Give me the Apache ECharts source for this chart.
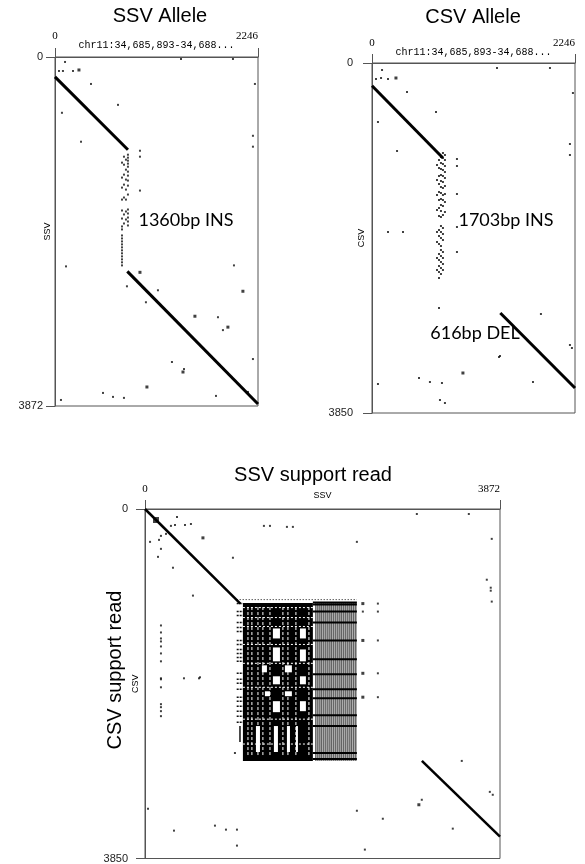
<!DOCTYPE html>
<html><head><meta charset="utf-8">
<script src="https://cdn.jsdelivr.net/npm/echarts@6/dist/echarts.min.js"></script>
<style>html,body{margin:0;padding:0;background:#fff}#c{width:585px;height:864px}</style>
</head><body><div id="c"></div>
<script>
// ---------- axis extents / tick labels ----------
const refLen = 2246;          // chr11 reference window
const ssvLen = 3872;
const csvLen = 3850;
const refName = 'chr11:34,685,893-34,688...';
const titles = ['SSV Allele', 'CSV Allele', 'SSV support read', 'CSV support read'];
const notes = ['1360bp INS', '1703bp INS', '616bp DEL'];

// ---------- panel 1: SSV allele vs reference ----------
const ssvAlleleSegs = [[0, 221, 807, 1029], [800, 2378, 2246, 3850]];
const ssvAlleleDots = [[111,55],[44,155],[88,155],[199,155],[398,299],[697,531],[1394,22],[1969,22],[2212,299],[77,619],[288,940],[2190,874],[2190,995],[122,2323],[1980,2312],[1139,2588],[1006,2721],[796,2544],[1803,2887],[1858,3030],[2190,3351],[1294,3384],[1427,3462],[531,3727],[642,3771],[763,3782],[1781,3760],[66,3805],[2135,3716],[940,1040],[940,1106],[940,1482]];
const ssvAlleleBigDots = [[265,144],[2079,2599],[1548,2876],[1913,2997],[1416,3495],[1017,3661],[940,2389]];
const ssvInsDots = [
 [807,1084],[807,1117],[807,1150],[807,1183],[807,1217],[807,1272],[807,1316],[807,1371],[807,1427],[807,1526],[807,1692],[807,1736],[807,1781],[807,1825],[807,1869],
 [785,1139],[785,1250],[785,1360],[785,1471],[785,1582],[785,1714],[785,1803],
 [763,1106],[763,1195],[763,1305],[763,1416],[763,1559],[763,1747],[763,1847],
 [741,1172],[741,1338],[741,1449],[741,1582],[741,1703],[741,1792],[741,1880],[741,1913],[741,1980],[741,2013],[741,2046],[741,2079],[741,2112],[741,2145],[741,2178],[741,2212],[741,2245],[741,2278],[741,2312]
];

// ---------- panel 2: CSV allele vs reference ----------
const csvAlleleSegs = [[0, 250, 785, 1045], [1420, 2750, 2246, 3575]];
const csvAlleleDots = [[111,77],[44,176],[100,165],[177,176],[387,319],[708,539],[1383,55],[1969,55],[2223,330],[66,649],[277,968],[2190,891],[2190,1012],[177,1859],[343,1859],[940,1056],[940,1133],[940,1441],[940,1804],[940,2079],[741,2695],[1869,2761],[2190,3102],[2212,3135],[1416,3223],[1405,3234],[520,3465],[641,3509],[774,3520],[1781,3509],[66,3531],[752,3707],[807,3740]];
const csvAlleleBigDots = [[265,165],[1006,3410]];
const csvInsDots = [
 [807,1012],[807,1067],[807,1133],[807,1199],[807,1265],[807,1353],[807,1441],[807,1529],[807,1639],
 [785,990],[785,1045],[785,1111],[785,1177],[785,1243],[785,1309],[785,1375],[785,1452],[785,1507],[785,1573],[785,1672],[785,1815],[785,1881],[785,1947],[785,2079],[785,2145],[785,2211],[785,2277],
 [763,1034],[763,1100],[763,1166],[763,1232],[763,1298],[763,1364],[763,1430],[763,1496],[763,1562],[763,1628],[763,1694],[763,1793],[763,1859],[763,1925],[763,2013],[763,2057],[763,2123],[763,2189],[763,2255],[763,2321],
 [741,1067],[741,1155],[741,1243],[741,1331],[741,1419],[741,1507],[741,1595],[741,1683],[741,1837],[741,1903],[741,1991],[741,2101],[741,2167],[741,2233],[741,2299],[741,2365],
 [719,1122],[719,1287],[719,1452],[719,1617],[719,1859],[719,1969],[719,2145],[719,2277]
];

// ---------- panel 3: SSV support read vs CSV support read ----------
const readSegs = [[0, 0, 1040, 1042], [3020, 2775, 3872, 3610]];
const readDots = [[349,88],[283,186],[327,176],[436,176],[501,165],[229,274],[174,296],[153,340],[55,362],[174,439],[142,527],[305,647],[959,537],[1297,186],[1363,186],[1548,197],[1613,197],[2311,362],[2965,55],[3532,55],[3782,329],[3728,779],[3771,867],[3771,900],[3782,1020],[2540,1042],[2540,1130],[2376,1130],[2540,1448],[2540,1810],[2540,2073],[600,1854],[3455,2775],[3761,3116],[3793,3148],[3019,3203],[2311,3324],[2594,3412],[3357,3521],[763,3488],[883,3532],[1003,3532],[1003,3708],[2398,3752],[523,954],[425,1865],[589,1865],[33,3302],[316,3543],[981,2688],
 [174,1283],[174,1360],[174,1426],[174,1459],[174,1514],[174,1591],[174,1678],[174,1865],[174,1876],[174,1964],[174,2150],[174,2183],[174,2227],[174,2282]];
const readBigDots = [[632,318],[2376,1042],[2376,1448],[2376,1810],[2376,2073],[2987,3258]];
const readSquare = [[120,121]];
// repeat block: dense area [x0,y0,x1,y1], white holes, white seams, stripe columns and dark rows
const blockDense = [[1068,1035,1831,2775]];
const blockHoles = [[1395,1316,1472,1426],[1690,1316,1755,1426],[1395,1525,1472,1678],[1690,1547,1755,1678],[1275,1722,1330,1799],[1526,1722,1602,1799],[1395,1843,1472,1931],[1690,1843,1755,1931],[1308,2008,1363,2062],[1526,2008,1602,2062],[1395,2117,1472,2238],[1690,2117,1755,2227],[1210,2391,1254,2677],[1406,2391,1450,2677],[1548,2391,1581,2677],[1646,2391,1668,2677]];
const seamCols = [1123,1166,1232,1286,1363,1504,1559,1646,1788];
const seamSpanY = [1080, 2720];
const seamRows = [1086,1196,1294,1492,1700,1964,2315,2589];
const seamSpanX = [1068, 1831];
const stripeX = [1864,1886,1908,1929,1951,1973,1995,2017,2038,2060,2082,2104,2126,2147,2169,2191,2213,2235,2256,2278,2300];
const stripeSpanY = [1030, 2775];
const stripeRows = [1031,1053,1130,1251,1448,1656,1821,1986,2084,2271,2391,2688,2753];
const stripeSpanX = [1831, 2311];
const leftRows = [1042,1130,1174,1251,1305,1349,1448,1492,1547,1591,1635,1678,1810,1876,1920,1986,2073,2117,2172,2227,2282,2348];
const leftSpanX = [1000, 1068];
const leftBar = [[1036, 2391, 2567]];
const topRow = [[1000, 998, 2311, 998]];

// ---------- helpers ----------
const AX = '#555';
const plain = v => String(v);
function xAx(gi, max, name, gap, margin, nameSize, nameFont) {
  return {gridIndex: gi, type: 'value', position: 'top', min: 0, max: max, interval: max,
    axisLine: {show: true, onZero: false, lineStyle: {color: AX, width: 1}},
    axisTick: {show: true, length: 9, lineStyle: {color: AX}},
    splitLine: {show: false},
    axisLabel: {margin: margin, formatter: plain, color: '#000', fontFamily: 'Liberation Serif', fontSize: 11, showMinLabel: true, showMaxLabel: true, alignMaxLabel: 'right'},
    name: name, nameLocation: 'middle', nameGap: gap, nameMoveOverlap: false,
    nameTextStyle: {color: '#000', fontFamily: nameFont, fontSize: nameSize}};
}
function yAx(gi, max, name, gap, margin) {
  return {gridIndex: gi, type: 'value', inverse: true, min: 0, max: max, interval: max,
    axisLine: {show: true, onZero: false, lineStyle: {color: AX, width: 1}},
    axisTick: {show: true, length: 9, lineStyle: {color: AX}},
    splitLine: {show: false},
    axisLabel: {margin: margin, formatter: plain, color: '#222', fontFamily: 'Liberation Sans', fontSize: 11, showMinLabel: true, showMaxLabel: true},
    name: name, nameLocation: 'middle', nameGap: gap, nameMoveOverlap: false,
    nameTextStyle: {color: '#000', fontFamily: 'Liberation Sans', fontSize: 9}};
}
function segSeries(gi, data, w) {
  return {type: 'custom', xAxisIndex: gi, yAxisIndex: gi, data: data, silent: true, z: 5,
    renderItem: (p, api) => {
      const a = api.coord([api.value(0), api.value(1)]), b = api.coord([api.value(2), api.value(3)]);
      return {type: 'line', shape: {x1: a[0], y1: a[1], x2: b[0], y2: b[1]}, style: {stroke: '#000', lineWidth: w}};
    }};
}
function rectSeries(gi, data, fill, z) {
  return {type: 'custom', xAxisIndex: gi, yAxisIndex: gi, data: data, silent: true, z: z,
    renderItem: (p, api) => {
      const a = api.coord([api.value(0), api.value(1)]), b = api.coord([api.value(2), api.value(3)]);
      return {type: 'rect', shape: {x: Math.min(a[0], b[0]), y: Math.min(a[1], b[1]), width: Math.abs(b[0] - a[0]), height: Math.abs(b[1] - a[1])}, style: {fill: fill}};
    }};
}
function dotSeries(gi, data, size, symbol) {
  return {type: 'scatter', xAxisIndex: gi, yAxisIndex: gi, data: data, symbol: symbol || 'rect', symbolSize: size,
    itemStyle: {color: '#111'}, silent: true, z: 4};
}
function thinSeries(gi, data, w, color, z, dash) {
  return {type: 'custom', xAxisIndex: gi, yAxisIndex: gi, data: data, silent: true, z: z,
    renderItem: (p, api) => {
      const a = api.coord([api.value(0), api.value(1)]), b = api.coord([api.value(2), api.value(3)]);
      return {type: 'line', shape: {x1: a[0], y1: a[1], x2: b[0], y2: b[1]}, style: {stroke: color, lineWidth: w, lineDash: dash || null}};
    }};
}
function txt(t, x, y, size, font, rot) {
  return {type: 'text', x: x, y: y, rotation: rot || 0,
    style: {text: t, fill: '#000', fontSize: size, fontFamily: font, align: 'center', verticalAlign: 'middle'}};
}

const stripeLines = stripeX.map(x => [x, stripeSpanY[0], x, stripeSpanY[1]]);
const stripeRowLines = stripeRows.map(y => [stripeSpanX[0], y, stripeSpanX[1], y]);
const seamColLines = seamCols.map(x => [x, seamSpanY[0], x, seamSpanY[1]]);
const seamRowLines = seamRows.map(y => [seamSpanX[0], y, seamSpanX[1], y]);
const leftRowLines = leftRows.map(y => [leftSpanX[0], y, leftSpanX[1], y]);
const leftBarLines = leftBar.map(b => [b[0], b[1], b[0], b[2]]);

const chart = echarts.init(document.getElementById('c'), null, {renderer: 'canvas'});
chart.setOption({
  animation: false,
  backgroundColor: '#fff',
  grid: [
    {left: 55, top: 57, width: 203, height: 349, show: true, borderColor: AX, borderWidth: 1},
    {left: 372, top: 63, width: 203, height: 350, show: true, borderColor: AX, borderWidth: 1},
    {left: 145, top: 509, width: 355, height: 351, show: true, borderColor: AX, borderWidth: 1}
  ],
  xAxis: [
    xAx(0, refLen, refName, 7, 15, 10, 'Liberation Mono'),
    xAx(1, refLen, refName, 6, 14, 10, 'Liberation Mono'),
    xAx(2, ssvLen, 'SSV', 9, 14, 9, 'Liberation Sans')
  ],
  yAxis: [
    yAx(0, ssvLen, 'SSV', 3, 12),
    yAx(1, csvLen, 'CSV', 6, 19),
    yAx(2, csvLen, 'CSV', 5, 17)
  ],
  series: [
    segSeries(0, ssvAlleleSegs, 3),
    dotSeries(0, ssvAlleleDots, 2),
    dotSeries(0, ssvAlleleBigDots, 3),
    dotSeries(0, ssvInsDots, 2),
    segSeries(1, csvAlleleSegs, 3),
    dotSeries(1, csvAlleleDots, 2),
    dotSeries(1, csvAlleleBigDots, 3),
    dotSeries(1, csvInsDots, 2),
    segSeries(2, readSegs, 2.5),
    dotSeries(2, readDots, 2),
    dotSeries(2, readBigDots, 3),
    dotSeries(2, readSquare, 6),
    rectSeries(2, blockDense, '#000', 2),
    rectSeries(2, blockHoles, '#fff', 3),
    thinSeries(2, seamColLines, 1, '#fff', 3, [3, 2]),
    thinSeries(2, seamRowLines, 1, '#fff', 3, [2, 2]),
    thinSeries(2, stripeLines, 1, '#111', 2),
    thinSeries(2, stripeRowLines, 2, '#000', 3),
    thinSeries(2, leftRowLines, 1.5, '#111', 3, [2, 1]),
    thinSeries(2, leftBarLines, 1.5, '#111', 3),
    thinSeries(2, topRow, 1, '#111', 3, [1, 2])
  ],
  graphic: [
    txt(titles[0], 160, 16, 20, 'Liberation Sans'),
    txt(titles[1], 473, 17, 20, 'Liberation Sans'),
    txt(titles[2], 313, 475, 20, 'Liberation Sans'),
    txt(titles[3], 115, 670, 20, 'Liberation Sans', Math.PI / 2),
    txt(notes[0], 186, 220, 18, 'Lato'),
    txt(notes[1], 506, 220, 18, 'Lato'),
    txt(notes[2], 475, 333, 18, 'Lato')
  ]
});
</script></body></html>
